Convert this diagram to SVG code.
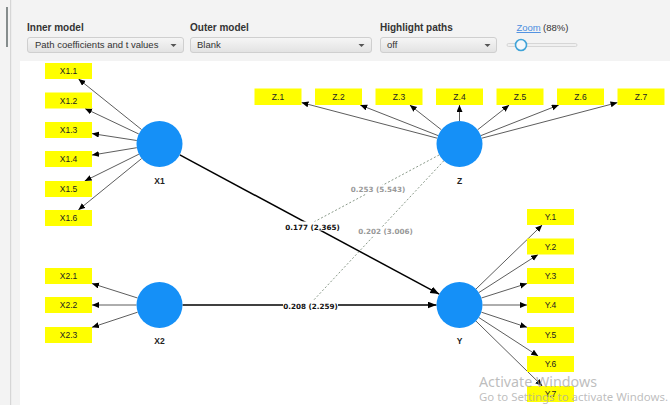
<svg xmlns="http://www.w3.org/2000/svg" width="670" height="405" viewBox="0 0 670 405">
<defs>
<linearGradient id="dd" x1="0" y1="0" x2="0" y2="1"><stop offset="0" stop-color="#f6f6f6"/><stop offset="1" stop-color="#e2e2e2"/></linearGradient>
<marker id="ah" markerUnits="userSpaceOnUse" markerWidth="8" markerHeight="7" refX="7" refY="3" orient="auto"><path d="M0,0 L7,3 L0,6 z" fill="#000"/></marker>
<marker id="ahb" markerUnits="userSpaceOnUse" markerWidth="10" markerHeight="8" refX="9" refY="3.5" orient="auto"><path d="M0,0 L9,3.5 L0,7 z" fill="#000"/></marker>
<style>
.lbl{font-family:"Liberation Sans",Arial,sans-serif;font-size:10px;font-weight:bold;fill:#333}
.ddt{font-family:"Liberation Sans",Arial,sans-serif;font-size:9.5px;fill:#333}
.dd{fill:url(#dd);stroke:#cfcfcf;stroke-width:1}
.car{fill:#555}
.box{fill:#ffff00}
.bt{font-family:"Liberation Sans",Arial,sans-serif;font-size:8.5px;fill:#222;text-anchor:middle}
.lv{fill:#1590f7}
.lt{font-family:"Liberation Sans",Arial,sans-serif;font-size:8.5px;font-weight:bold;fill:#222;text-anchor:middle}
.out{stroke:#333;stroke-width:0.8;fill:none;marker-end:url(#ah)}
.inn{stroke:#000;stroke-width:1.5;fill:none;marker-end:url(#ahb)}
.dash{stroke:#8a9a8a;stroke-width:1;stroke-dasharray:2,2;fill:none}
.pl{font-family:"DejaVu Sans",Verdana,sans-serif;font-size:7.2px;font-weight:bold;text-anchor:middle}
.wm{font-family:"Noto Sans","Open Sans",sans-serif;fill:#a8a8a8;fill-opacity:0.75}
</style>
</defs>
<rect x="0" y="0" width="670" height="405" fill="#f3f3f3"/>
<rect x="10" y="0" width="1.2" height="405" fill="#d6d6d6"/>
<line x1="7" y1="7" x2="7" y2="47" stroke="#3d4848" stroke-width="1.2"/>
<rect x="20" y="61" width="650" height="344" fill="#ffffff"/>

<g id="toolbar">
<text class="lbl" x="27" y="31">Inner model</text>
<rect class="dd" x="27.5" y="37.5" width="156" height="15" rx="2.5"/>
<text class="ddt" x="35" y="48">Path coefficients and t values</text>
<path class="car" d="M170.5,44 L176.5,44 L173.5,47 z"/>
<text class="lbl" x="190" y="31">Outer model</text>
<rect class="dd" x="190.5" y="37.5" width="181" height="15" rx="2.5"/>
<text class="ddt" x="197" y="48">Blank</text>
<path class="car" d="M358.5,44 L364.5,44 L361.5,47 z"/>
<text class="lbl" x="380" y="31">Highlight paths</text>
<rect class="dd" x="380.5" y="37.5" width="116" height="15" rx="2.5"/>
<text class="ddt" x="387" y="48">off</text>
<path class="car" d="M484.5,44 L490.5,44 L487.5,47 z"/>
<text x="516.5" y="31" font-family="Liberation Sans,Arial,sans-serif" font-size="9.5" fill="#4a8ee0" text-decoration="underline">Zoom</text>
<text x="543" y="31" font-family="Liberation Sans,Arial,sans-serif" font-size="9.5" fill="#333">(88%)</text>
<rect x="507" y="43.5" width="70" height="3" rx="1.5" fill="#f0f0f0" stroke="#cfcfcf" stroke-width="0.8"/>
<circle cx="521" cy="45" r="5.5" fill="#f4f8fb" stroke="#3fa3d8" stroke-width="1.6"/>
</g>

<g id="connectors">
<line class="out" x1="141.6" y1="129.6" x2="78.5" y2="79"/>
<line class="out" x1="138.8" y1="134" x2="85" y2="108.5"/>
<line class="out" x1="136.8" y1="140.5" x2="92" y2="133.6"/>
<line class="out" x1="136.8" y1="147.7" x2="92" y2="155.1"/>
<line class="out" x1="138.9" y1="154.2" x2="84.7" y2="181"/>
<line class="out" x1="141.7" y1="158.5" x2="78.3" y2="210"/>
<line class="out" x1="137.6" y1="298" x2="92" y2="283.5"/>
<line class="out" x1="136.5" y1="305" x2="92" y2="305"/>
<line class="out" x1="137.6" y1="312.2" x2="92" y2="327.3"/>
<line class="out" x1="437.2" y1="138.2" x2="301.5" y2="102.6"/>
<line class="out" x1="438.1" y1="135.6" x2="360.2" y2="105"/>
<line class="out" x1="441.4" y1="129.8" x2="409.8" y2="105"/>
<line class="out" x1="459.5" y1="121" x2="459.5" y2="105"/>
<line class="out" x1="477.6" y1="129.8" x2="509.2" y2="105"/>
<line class="out" x1="480.9" y1="135.6" x2="558.8" y2="105"/>
<line class="out" x1="481.8" y1="138.2" x2="617.5" y2="102.6"/>
<line class="out" x1="476" y1="289" x2="542.2" y2="225"/>
<line class="out" x1="478.8" y1="292.6" x2="538.1" y2="254.5"/>
<line class="out" x1="481.4" y1="298" x2="527" y2="283.5"/>
<line class="out" x1="482.5" y1="305" x2="527" y2="305"/>
<line class="out" x1="481.4" y1="312.2" x2="527" y2="327.3"/>
<line class="out" x1="478.8" y1="317.5" x2="538.2" y2="356"/>
<line class="out" x1="476" y1="321.1" x2="542.3" y2="386"/>
<line class="dash" x1="439.2" y1="154.9" x2="312" y2="223"/>
<line class="dash" x1="443.8" y1="160.8" x2="311" y2="303"/>
<line class="inn" x1="179.8" y1="154.9" x2="439.2" y2="294.1"/>
<line class="inn" x1="182.5" y1="305" x2="436.5" y2="305"/>
<rect x="285" y="221.5" width="55" height="9" fill="#fff"/>
<text class="pl" x="312.5" y="229.5" fill="#111">0.177 (2.365)</text>
<rect x="283" y="301" width="55" height="9" fill="#fff"/>
<text class="pl" x="310.5" y="308.5" fill="#111">0.208 (2.259)</text>
<rect x="351" y="185" width="55" height="9" fill="#fff"/>
<text class="pl" x="378" y="192" fill="#999">0.253 (5.543)</text>
<rect x="358" y="227" width="55" height="9" fill="#fff"/>
<text class="pl" x="385.5" y="234" fill="#999">0.202 (3.006)</text>
</g>

<g id="X1"><circle class="lv" cx="159.5" cy="144" r="23"/><text class="lt" x="159.5" y="184">X1</text></g>
<g id="X2"><circle class="lv" cx="159.5" cy="305" r="23"/><text class="lt" x="159.5" y="344">X2</text></g>
<g id="Z"><circle class="lv" cx="459.5" cy="144" r="23"/><text class="lt" x="459.5" y="184">Z</text></g>
<g id="Y"><circle class="lv" cx="459.5" cy="305" r="23"/><text class="lt" x="459.5" y="344">Y</text></g>

<g id="X1.1"><rect class="box" x="45" y="63" width="47" height="16"/><text class="bt" x="68.5" y="74">X1.1</text></g>
<g id="X1.2"><rect class="box" x="45" y="92.5" width="47" height="16"/><text class="bt" x="68.5" y="103.5">X1.2</text></g>
<g id="X1.3"><rect class="box" x="45" y="122" width="47" height="16"/><text class="bt" x="68.5" y="133">X1.3</text></g>
<g id="X1.4"><rect class="box" x="45" y="151" width="47" height="16"/><text class="bt" x="68.5" y="162">X1.4</text></g>
<g id="X1.5"><rect class="box" x="45" y="181" width="47" height="16"/><text class="bt" x="68.5" y="192">X1.5</text></g>
<g id="X1.6"><rect class="box" x="45" y="210" width="47" height="16"/><text class="bt" x="68.5" y="221">X1.6</text></g>

<g id="X2.1"><rect class="box" x="45" y="268" width="47" height="16"/><text class="bt" x="68.5" y="279">X2.1</text></g>
<g id="X2.2"><rect class="box" x="45" y="297" width="47" height="16"/><text class="bt" x="68.5" y="308">X2.2</text></g>
<g id="X2.3"><rect class="box" x="45" y="327" width="47" height="16"/><text class="bt" x="68.5" y="338">X2.3</text></g>

<g id="Z.1"><rect class="box" x="254.5" y="88.5" width="47" height="16.5"/><text class="bt" x="278" y="99.5">Z.1</text></g>
<g id="Z.2"><rect class="box" x="315" y="88.5" width="47" height="16.5"/><text class="bt" x="338.5" y="99.5">Z.2</text></g>
<g id="Z.3"><rect class="box" x="375.5" y="88.5" width="47" height="16.5"/><text class="bt" x="399" y="99.5">Z.3</text></g>
<g id="Z.4"><rect class="box" x="436" y="88.5" width="47" height="16.5"/><text class="bt" x="459.5" y="99.5">Z.4</text></g>
<g id="Z.5"><rect class="box" x="496.5" y="88.5" width="47" height="16.5"/><text class="bt" x="520" y="99.5">Z.5</text></g>
<g id="Z.6"><rect class="box" x="557" y="88.5" width="47" height="16.5"/><text class="bt" x="580.5" y="99.5">Z.6</text></g>
<g id="Z.7"><rect class="box" x="617.5" y="88.5" width="47" height="16.5"/><text class="bt" x="641" y="99.5">Z.7</text></g>

<g id="Y.1"><rect class="box" x="527" y="209" width="47" height="16"/><text class="bt" x="550.5" y="220">Y.1</text></g>
<g id="Y.2"><rect class="box" x="527" y="238.5" width="47" height="16"/><text class="bt" x="550.5" y="249.5">Y.2</text></g>
<g id="Y.3"><rect class="box" x="527" y="268" width="47" height="16"/><text class="bt" x="550.5" y="279">Y.3</text></g>
<g id="Y.4"><rect class="box" x="527" y="297" width="47" height="16"/><text class="bt" x="550.5" y="308">Y.4</text></g>
<g id="Y.5"><rect class="box" x="527" y="327" width="47" height="16"/><text class="bt" x="550.5" y="338">Y.5</text></g>
<g id="Y.6"><rect class="box" x="527" y="356" width="47" height="16"/><text class="bt" x="550.5" y="367">Y.6</text></g>
<g id="Y.7"><rect class="box" x="527" y="386" width="47" height="16"/><text class="bt" x="550.5" y="397">Y.7</text></g>

<text class="wm" x="479" y="387" font-size="14" textLength="118" lengthAdjust="spacingAndGlyphs">Activate Windows</text>
<text class="wm" x="479" y="401" font-size="10.5" textLength="189" lengthAdjust="spacingAndGlyphs">Go to Settings to activate Windows.</text>
</svg>
